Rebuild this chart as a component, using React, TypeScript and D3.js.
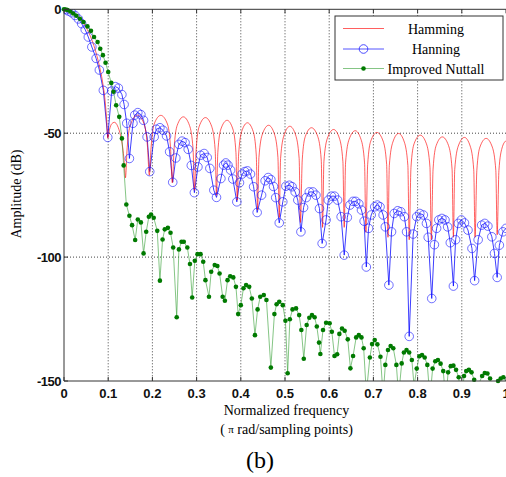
import React from "react";
import * as d3 from "d3";

type P = [number, number];

const xTicks = [0, 0.1, 0.2, 0.3, 0.4, 0.5, 0.6, 0.7, 0.8, 0.9, 1];
const xTickLabels = ["0", "0.1", "0.2", "0.3", "0.4", "0.5", "0.6", "0.7", "0.8", "0.9", "1"];
const yTicks = [0, -50, -100, -150];
const yTickLabels = ["0", "-50", "-100", "-150"];
const seriesNames = ["Hamming", "Hanning", "Improved Nuttall"];

const hamming: P[] = [
  [0, 0], [0.01, -0.3], [0.02, -1.1], [0.03, -2.5], [0.04, -4.5], [0.05, -7.3], [0.06, -11], [0.07, -16], [0.08, -22.8], [0.087, -29], [0.093, -37], [0.097, -46], [0.099, -52],
  [0.103, -48.5], [0.108, -46.2], [0.114, -45.6], [0.121, -47], [0.128, -51], [0.133, -56], [0.136, -61], [0.139, -68],
  [0.143, -55.7], [0.151, -46.2], [0.166, -42.7], [0.181, -46.2], [0.189, -55.7], [0.193, -67],
  [0.197, -55.8], [0.204, -46.3], [0.219, -42.8], [0.234, -46.3], [0.241, -55.8], [0.245, -70],
  [0.249, -56.4], [0.256, -46.9], [0.27, -43.4], [0.284, -46.9], [0.292, -56.4], [0.295, -73],
  [0.299, -56.7], [0.306, -47.2], [0.32, -43.7], [0.334, -47.2], [0.342, -56.7], [0.345, -75],
  [0.348, -57.8], [0.355, -48.3], [0.369, -44.8], [0.382, -48.3], [0.389, -57.8], [0.392, -77],
  [0.395, -58.8], [0.402, -49.3], [0.415, -45.8], [0.428, -49.3], [0.435, -58.8], [0.438, -81],
  [0.441, -59.8], [0.449, -50.3], [0.463, -46.8], [0.476, -50.3], [0.484, -59.8], [0.487, -84],
  [0.49, -60.2], [0.498, -50.7], [0.511, -47.2], [0.524, -50.7], [0.532, -60.2], [0.535, -86],
  [0.539, -60.8], [0.546, -51.3], [0.56, -47.8], [0.574, -51.3], [0.582, -60.8], [0.585, -88],
  [0.588, -61.5], [0.596, -52], [0.61, -48.5], [0.623, -52], [0.631, -61.5], [0.634, -88],
  [0.637, -62], [0.645, -52.5], [0.659, -49], [0.672, -52.5], [0.68, -62], [0.683, -90],
  [0.687, -62.7], [0.694, -53.2], [0.708, -49.7], [0.722, -53.2], [0.73, -62.7], [0.733, -92],
  [0.736, -63.1], [0.744, -53.6], [0.757, -50.1], [0.77, -53.6], [0.778, -63.1], [0.781, -93],
  [0.785, -63.8], [0.792, -54.3], [0.806, -50.8], [0.82, -54.3], [0.828, -63.8], [0.831, -93],
  [0.835, -64.5], [0.842, -55], [0.856, -51.5], [0.87, -55], [0.878, -64.5], [0.881, -92],
  [0.884, -64.7], [0.892, -55.2], [0.906, -51.7], [0.919, -55.2], [0.927, -64.7], [0.93, -92],
  [0.934, -65.1], [0.941, -55.6], [0.955, -52.1], [0.969, -55.6], [0.977, -65.1], [0.98, -91],
  [0.984, -65], [0.991, -56], [1.0, -53],
];

const hanning: P[] = [
  [0, 0], [0.005, -0.2], [0.01, -0.7], [0.0175, -1.4], [0.025, -2.5], [0.0325, -3.9], [0.04, -5.8], [0.048, -8.2], [0.055, -11.2], [0.063, -15.2], [0.0727, -19.8], [0.08, -24.5], [0.089, -32.7], [0.099, -51.7],
  [0.108, -33], [0.116, -31.2], [0.123, -31.8], [0.131, -34.4], [0.136, -38.4], [0.142, -46], [0.148, -60.2],
  [0.156, -46], [0.16, -42.7], [0.167, -41.7], [0.174, -42.5], [0.18, -44.8], [0.188, -51.5], [0.194, -65.5],
  [0.204, -51.5], [0.209, -48.4], [0.217, -47.8], [0.224, -48.8], [0.232, -51.1], [0.239, -57.5], [0.246, -69.8],
  [0.253, -60], [0.26, -54.5], [0.267, -53.2], [0.274, -53.8], [0.281, -56.5], [0.288, -63], [0.295, -74],
  [0.303, -63.6], [0.309, -58.9], [0.317, -58.2], [0.324, -59.8], [0.33, -64.2], [0.339, -73], [0.345, -75.9],
  [0.355, -68.3], [0.361, -62.9], [0.366, -62], [0.371, -62.9], [0.377, -64.9], [0.382, -68.5], [0.391, -77.7],
  [0.397, -70], [0.403, -66.5], [0.409, -65.5], [0.415, -65.2], [0.422, -66.5], [0.429, -71.6], [0.437, -82],
  [0.447, -75], [0.455, -69.2], [0.462, -67.9], [0.468, -68.7], [0.474, -71.5], [0.479, -76], [0.487, -86.2],
  [0.495, -77.7], [0.502, -71.4], [0.51, -71], [0.516, -71.6], [0.523, -73.7], [0.529, -77], [0.536, -89.8],
  [0.542, -80], [0.548, -76], [0.555, -73.7], [0.563, -73.7], [0.57, -75], [0.578, -80.4], [0.584, -94.5],
  [0.593, -85], [0.598, -77], [0.605, -75.4], [0.612, -75.4], [0.619, -77], [0.627, -83.7], [0.634, -99.2],
  [0.641, -84], [0.647, -79], [0.654, -77.5], [0.66, -77.5], [0.667, -78.5], [0.673, -81], [0.679, -85.5], [0.684, -104],
  [0.689, -88.4], [0.695, -83], [0.703, -79.7], [0.709, -79], [0.715, -79.7], [0.722, -83], [0.727, -87.8], [0.735, -111.3],
  [0.741, -89.8], [0.747, -82.4], [0.755, -81.3], [0.762, -81.7], [0.77, -83.7], [0.775, -89.8], [0.781, -132],
  [0.79, -90.7], [0.798, -83.7], [0.805, -82.4], [0.813, -83], [0.82, -86.4], [0.824, -92], [0.832, -116.7],
  [0.838, -95], [0.843, -88.4], [0.848, -85], [0.855, -84.4], [0.862, -85], [0.868, -87.8], [0.874, -94.2], [0.881, -111.7],
  [0.886, -93], [0.892, -86.4], [0.899, -85], [0.906, -86.2], [0.914, -89.1], [0.923, -96.5], [0.929, -109.5],
  [0.937, -93], [0.945, -87.1], [0.952, -86.4], [0.959, -87.5], [0.968, -91.8], [0.974, -98.5], [0.98, -108.2],
  [0.985, -95.2], [0.993, -89.8], [1.0, -88.4],
];

const nuttall: P[] = [
  [0, 0], [0.004, -0.1], [0.008, -0.3], [0.014, -0.9], [0.021, -1.7], [0.028, -2.6], [0.036, -3.8], [0.044, -5.1], [0.053, -6.9], [0.061, -8.7], [0.068, -11.2], [0.076, -13.2], [0.082, -15.9], [0.088, -18.5], [0.094, -21.6], [0.1, -25.3], [0.107, -29.7], [0.112, -33.3], [0.118, -38.7], [0.125, -43.4], [0.131, -52.1], [0.135, -63],
  [0.141, -78.8], [0.148, -83.3], [0.154, -87.1], [0.161, -93.1], [0.167, -84.8], [0.174, -86], [0.18, -98.5], [0.186, -89.8], [0.192, -83.7], [0.197, -82.8], [0.203, -84.1], [0.211, -89.4], [0.217, -109.5],
  [0.223, -92.9], [0.228, -88.8], [0.235, -88.2], [0.241, -90.2], [0.247, -96.1], [0.255, -124.3], [0.26, -96.9], [0.266, -93.8], [0.271, -93.8], [0.279, -96.1], [0.285, -102.8], [0.29, -116.3],
  [0.296, -101.5], [0.302, -98.8], [0.309, -98.8], [0.315, -101.9], [0.32, -109.3], [0.328, -116], [0.333, -105.9], [0.341, -103.2], [0.347, -103.6], [0.352, -106.6], [0.359, -116], [0.364, -117.6],
  [0.37, -109.3], [0.376, -107.7], [0.383, -108.2], [0.389, -112], [0.394, -123], [0.4, -119.4], [0.406, -112.6], [0.412, -111.3], [0.419, -112], [0.425, -116.7], [0.432, -131.5],
  [0.438, -121.1], [0.444, -116], [0.452, -115.3], [0.458, -117.3], [0.468, -144.6], [0.476, -123], [0.481, -119], [0.487, -118], [0.495, -119.4], [0.501, -125.7], [0.506, -146.9],
  [0.511, -125.1], [0.517, -121.1], [0.525, -120.7], [0.532, -123.4], [0.537, -129.4], [0.5425, -141], [0.549, -127.4], [0.555, -124.5], [0.561, -123.4], [0.567, -124.3], [0.572, -128], [0.577, -134.5], [0.58, -139.1],
  [0.586, -129.4], [0.593, -126.5], [0.601, -126.7], [0.606, -130.1], [0.612, -139.9], [0.618, -139.2], [0.623, -131], [0.629, -128.8], [0.635, -129.7], [0.642, -133.2], [0.648, -144.9],
  [0.654, -139.9], [0.661, -132.4], [0.667, -131.5], [0.673, -132.4], [0.678, -136.8], [0.684, -155], [0.692, -140.5], [0.697, -135.1], [0.703, -133.5], [0.709, -135.2], [0.716, -140.2], [0.722, -156],
  [0.727, -143.5], [0.733, -137.5], [0.739, -135.9], [0.745, -136.8], [0.752, -143.5], [0.757, -156],
  [0.764, -142.9], [0.769, -138.5], [0.775, -137.5], [0.781, -138.5], [0.787, -141.5], [0.792, -152],
  [0.798, -145], [0.804, -140], [0.81, -139.5], [0.816, -140.5], [0.822, -143.5], [0.828, -157],
  [0.834, -145], [0.84, -142], [0.846, -141.5], [0.852, -143], [0.858, -146], [0.864, -158],
  [0.869, -146.5], [0.875, -144], [0.881, -143.8], [0.887, -145.5], [0.893, -148.5], [0.899, -160],
  [0.905, -148], [0.91, -146], [0.916, -145.5], [0.922, -146.5], [0.928, -149.5], [0.934, -160],
  [0.94, -150.5], [0.946, -148], [0.952, -146.8], [0.958, -147], [0.964, -149], [0.97, -162],
  [0.976, -152], [0.982, -150], [0.988, -149], [0.994, -148.5], [1.0, -150.3],
];

const W = 506;
const H = 477;
const L = 64;
const R = 506;
const T = 9.3;
const B = 381;

export default function App() {
  const x = d3.scaleLinear().domain([0, 1]).range([L, R]);
  const y = d3.scaleLinear().domain([-150, 0]).range([B, T]);
  const smooth = d3.line<P>().x((d) => x(d[0])).y((d) => y(d[1])).curve(d3.curveMonotoneX);
  const straight = d3.line<P>().x((d) => x(d[0])).y((d) => y(d[1]));
  const inside = (d: P) => d[1] >= -150 && d[1] <= 0 && d[0] >= 0 && d[0] <= 1;

  const serif = "'Liberation Serif', 'Times New Roman', serif";
  const sans = "'Liberation Sans', Arial, sans-serif";
  const gridColor = "#444";
  const axisColor = "#333";

  const legX0 = 343;
  const legX1 = 384;
  const legMid = (legX0 + legX1) / 2;
  const legRows = [28.5, 49, 68.5];
  const legText = 436;

  return (
    <svg
      width={W}
      height={H}
      style={{ position: "absolute", left: 0, top: 0, background: "#fff" }}
    >
      <defs>
        <clipPath id="plotClip">
          <rect x={L} y={T} width={R - L} height={B - T} />
        </clipPath>
      </defs>
      <rect x={0} y={0} width={W} height={H} fill="#fff" />

      {xTicks.slice(1, -1).map((t) => (
        <line key={"gx" + t} x1={x(t)} x2={x(t)} y1={T} y2={B} stroke={gridColor} strokeWidth={1} strokeDasharray="1,2" />
      ))}
      {yTicks.slice(1, -1).map((t) => (
        <line key={"gy" + t} x1={L} x2={R} y1={y(t)} y2={y(t)} stroke={gridColor} strokeWidth={1} strokeDasharray="1,2" />
      ))}

      <g clipPath="url(#plotClip)">
        <path d={straight(hanning) || ""} fill="none" stroke="#0000ff" strokeWidth={0.9} strokeOpacity={0.85} />
        <path d={smooth(hamming) || ""} fill="none" stroke="#ff0000" strokeWidth={0.9} strokeOpacity={0.7} />
        {hanning.filter(inside).map((d, i) => (
          <circle key={"hn" + i} cx={x(d[0])} cy={y(d[1])} r={4.3} fill="none" stroke="#2020ff" strokeWidth={0.8} strokeOpacity={0.8} />
        ))}
        <path d={straight(nuttall) || ""} fill="none" stroke="#2e9b2e" strokeWidth={0.9} strokeOpacity={0.65} />
      </g>
      {nuttall.filter(inside).map((d, i) => (
        <circle key={"nt" + i} cx={x(d[0])} cy={y(d[1])} r={2.3} fill="#007a00" />
      ))}

      <line x1={L} x2={L} y1={T} y2={B} stroke={axisColor} strokeWidth={1} />
      <line x1={L} x2={R} y1={B} y2={B} stroke={axisColor} strokeWidth={1} />
      <line x1={L} x2={R} y1={T} y2={T} stroke={axisColor} strokeWidth={1} />
      {xTicks.map((t) => (
        <g key={"tx" + t}>
          <line x1={x(t)} x2={x(t)} y1={B} y2={B - 4} stroke={axisColor} />
          <line x1={x(t)} x2={x(t)} y1={T} y2={T + 4} stroke={axisColor} />
        </g>
      ))}
      {yTicks.map((t) => (
        <line key={"ty" + t} x1={L} x2={L + 4} y1={y(t)} y2={y(t)} stroke={axisColor} />
      ))}

      {xTicks.map((t, i) => (
        <text key={"lx" + t} x={x(t)} y={398} textAnchor="middle" fontFamily={sans} fontWeight="bold" fontSize={13} fill="#111">
          {xTickLabels[i]}
        </text>
      ))}
      {yTicks.map((t, i) => (
        <text key={"ly" + t} x={61} y={y(t) + 4.5} textAnchor="end" fontFamily={sans} fontWeight="bold" fontSize={13} fill="#111" letterSpacing={-0.5}>
          {yTickLabels[i]}
        </text>
      ))}

      <text x={286.5} y={414.5} textAnchor="middle" fontFamily={serif} fontSize={14} fill="#000">
        Normalized frequency
      </text>
      <text x={286.5} y={433.5} textAnchor="middle" fontFamily={serif} fontSize={14} fill="#000">
        ( <tspan fontSize={11} dy={-1}>π</tspan><tspan dy={1}> rad/sampling points)</tspan>
      </text>
      <text x={260} y={468} textAnchor="middle" fontFamily={serif} fontSize={24} fill="#000">
        (b)
      </text>
      <text
        transform={`translate(21,194) rotate(-90)`}
        textAnchor="middle"
        fontFamily={serif}
        fontSize={14}
        fill="#000"
      >
        Amplitude (dB)
      </text>

      <rect x={335} y={16} width={168} height={64} fill="#fff" stroke="#333" strokeWidth={1} />
      <line x1={legX0} x2={legX1} y1={legRows[0]} y2={legRows[0]} stroke="#ff0000" strokeOpacity={0.7} strokeWidth={0.9} />
      <line x1={legX0} x2={legX1} y1={legRows[1]} y2={legRows[1]} stroke="#0000ff" strokeOpacity={0.75} strokeWidth={0.9} />
      <circle cx={legMid} cy={legRows[1]} r={4.3} fill="none" stroke="#2020ff" strokeWidth={0.8} />
      <line x1={legX0} x2={legX1} y1={legRows[2]} y2={legRows[2]} stroke="#2e9b2e" strokeOpacity={0.65} strokeWidth={0.9} />
      <circle cx={legMid} cy={legRows[2]} r={2.3} fill="#007a00" />
      {seriesNames.map((n, i) => (
        <text key={n} x={legText} y={legRows[i] + 5} textAnchor="middle" fontFamily={serif} fontSize={14} fill="#000">
          {n}
        </text>
      ))}
    </svg>
  );
}
